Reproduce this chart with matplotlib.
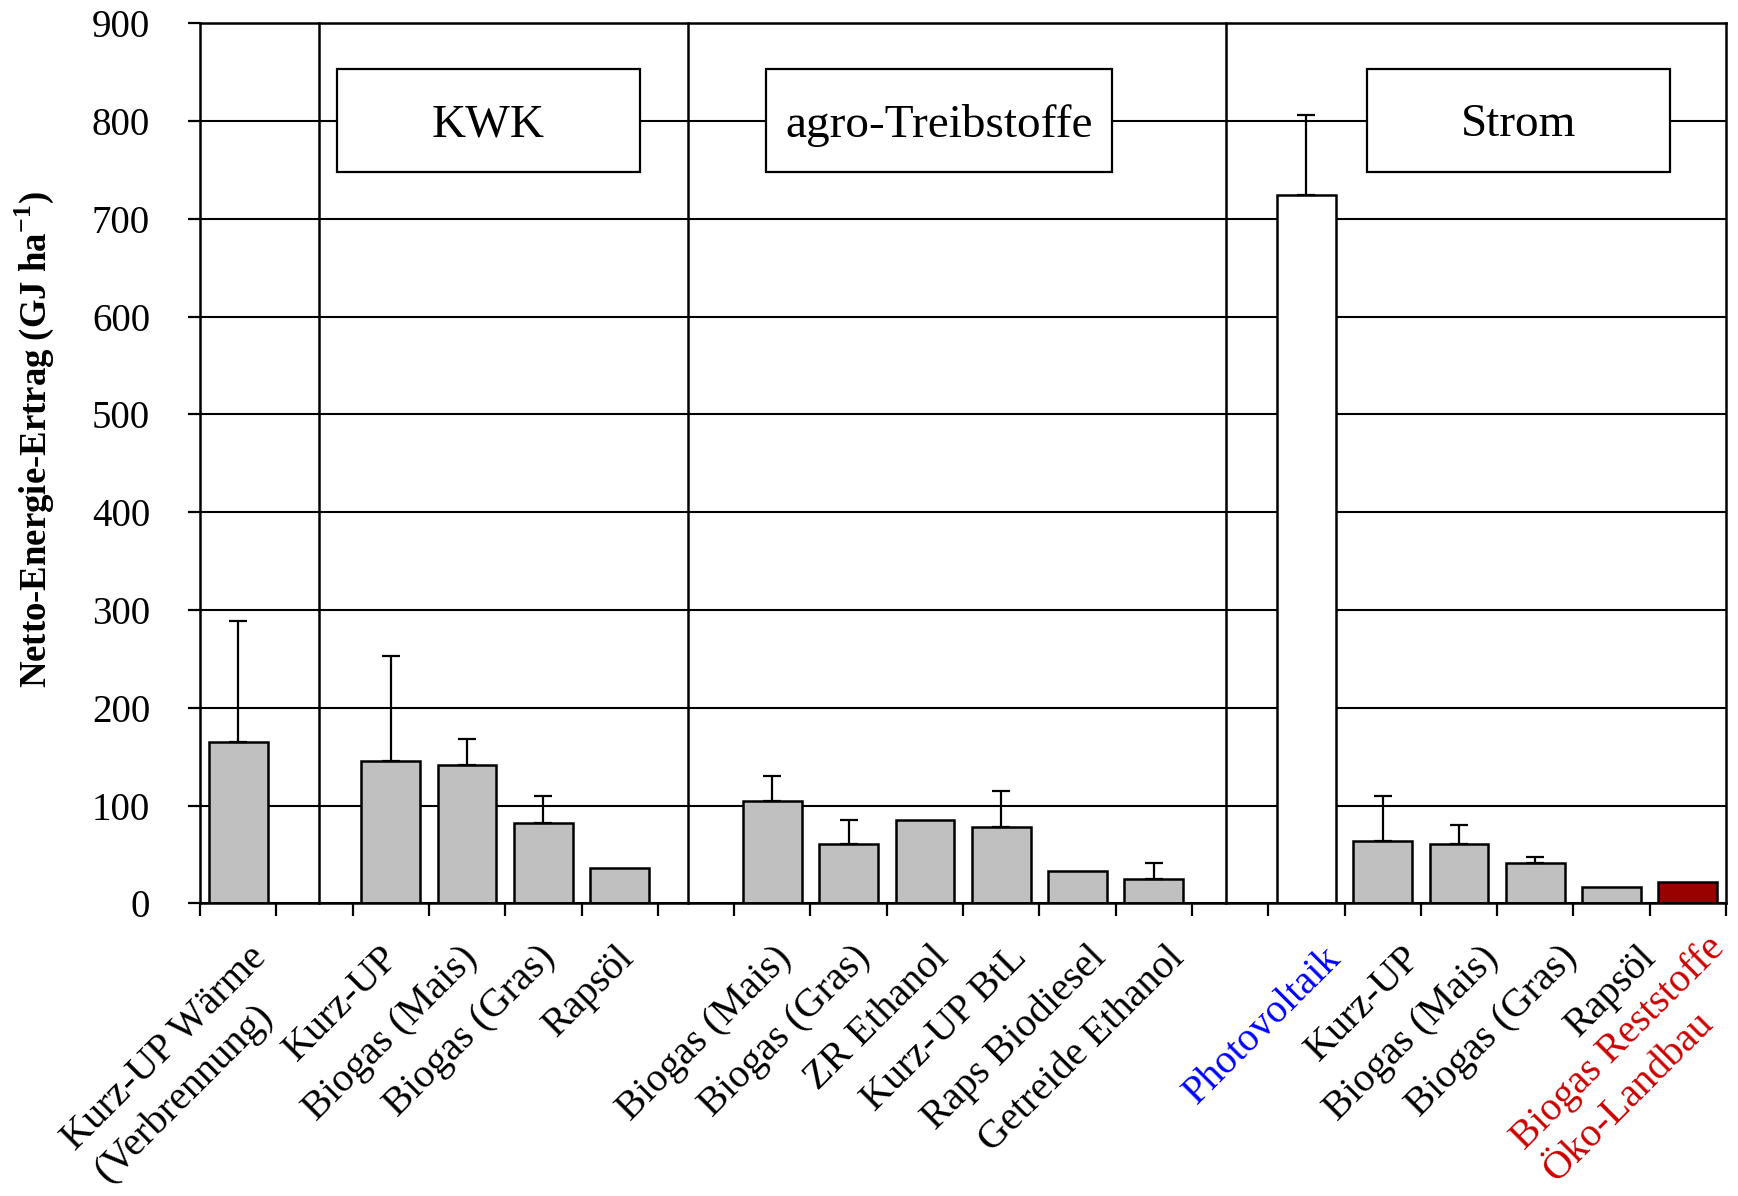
import matplotlib
matplotlib.use("Agg")
import matplotlib.pyplot as plt
import matplotlib.transforms as mtransforms
from matplotlib.patches import Rectangle

plt.rcParams["font.family"] = ["Liberation Serif", "DejaVu Serif"]
plt.rcParams["mathtext.fontset"] = "custom"
plt.rcParams["mathtext.rm"] = "Liberation Serif"
plt.rcParams["mathtext.bf"] = "Liberation Serif:bold"

# one slot per category, empty strings are gaps between the groups
labels = ["Kurz-UP Wärme\n(Verbrennung)", "", "Kurz-UP", "Biogas (Mais)", "Biogas (Gras)", "Rapsöl", "",
          "Biogas (Mais)", "Biogas (Gras)", "ZR Ethanol", "Kurz-UP BtL", "Raps Biodiesel",
          "Getreide Ethanol", "", "Photovoltaik", "Kurz-UP", "Biogas (Mais)", "Biogas (Gras)",
          "Rapsöl", "Biogas Reststoffe\nÖko-Landbau"]
values = [165, None, 146, 141, 82, 36, None, 105, 61, 85, 78, 33, 25, None,
          724, 64, 61, 41, 17, 22]
err_up = [124, None, 107, 27, 28, 0, None, 25, 24, 0, 37, 0, 16, None,
          82, 46, 19, 6, 0, 0]
bar_colors = ["#c0c0c0"] * 14 + ["#ffffff"] + ["#c0c0c0"] * 4 + ["#990000"]
label_colors = ["black"] * 14 + ["#0000ff"] + ["black"] * 4 + ["#cc0000"]

groups = ["KWK", "agro-Treibstoffe", "Strom"]
group_span = [(1.80, 5.76), (7.42, 11.95), (15.29, 19.27)]
separators = [1.56, 6.39, 13.45]

fig = plt.figure(figsize=(17.38, 11.96), dpi=100)
ax = fig.add_axes([0.1151, 0.2447, 0.8780, 0.7358])

xs = [i + 0.5 for i, v in enumerate(values) if v is not None]
vs = [v for v in values if v is not None]
cs = [bar_colors[i] for i, v in enumerate(values) if v is not None]
ax.bar(xs, vs, width=0.77, color=cs, edgecolor="black", linewidth=1.8, zorder=2)

ex = [i + 0.5 for i, e in enumerate(err_up) if e]
ey = [values[i] for i, e in enumerate(err_up) if e]
ee = [e for e in err_up if e]
ax.errorbar(ex, ey, yerr=[[0] * len(ee), ee], fmt="none", ecolor="black",
            elinewidth=1.6, capsize=6.5, capthick=1.6, zorder=2.5)

for s in separators:
    ax.plot([s, s], [0, 900], color="black", lw=1.8, zorder=1.5, clip_on=False)

for name, (x0, x1) in zip(groups, group_span):
    ax.add_patch(Rectangle((x0, 748), x1 - x0, 105, facecolor="white",
                           edgecolor="black", lw=1.6, zorder=3))
    ax.text((x0 + x1) / 2, 796, name, ha="center", va="center", fontsize=34, zorder=4)

ax.set_xlim(0, 20)
ax.set_ylim(0, 900)
ax.set_yticks(range(0, 901, 100))
ax.set_xticks(range(0, 21))
ax.set_xticklabels([])
ax.yaxis.grid(True, color="black", lw=1.5)
ax.set_axisbelow(True)
ax.tick_params(axis="both", direction="out", length=9, width=1.6, color="black")
ax.tick_params(axis="y", labelsize=28, pad=27)
for sp in ax.spines.values():
    sp.set_linewidth(1.8)

# category labels sit a bit wider apart than the slots in the original
nudge = [-0.184 + (i - 5) * 0.03 for i in range(len(labels))]
nudge[0] = 0.0
nudge[-1] = 0.10
for i, lab in enumerate(labels):
    if not lab:
        continue
    dy = -0.26 if i == len(labels) - 1 else -0.36  # last one lifted off the bottom edge
    offset = mtransforms.ScaledTranslation(0.10, dy, fig.dpi_scale_trans)
    ax.text(i + 0.5 + nudge[i], 0, lab, transform=ax.get_xaxis_transform() + offset,
            rotation=45, rotation_mode="anchor", ha="right", va="top",
            multialignment="left", linespacing=1.3, fontsize=29, color=label_colors[i])

fig.text(0.020, 0.632, "Netto-Energie-Ertrag (GJ ha$^{\\mathbf{-1}}$)", rotation=90,
         ha="center", va="center", fontsize=26.5, fontweight="bold")

fig.savefig("out.png", dpi=100)
